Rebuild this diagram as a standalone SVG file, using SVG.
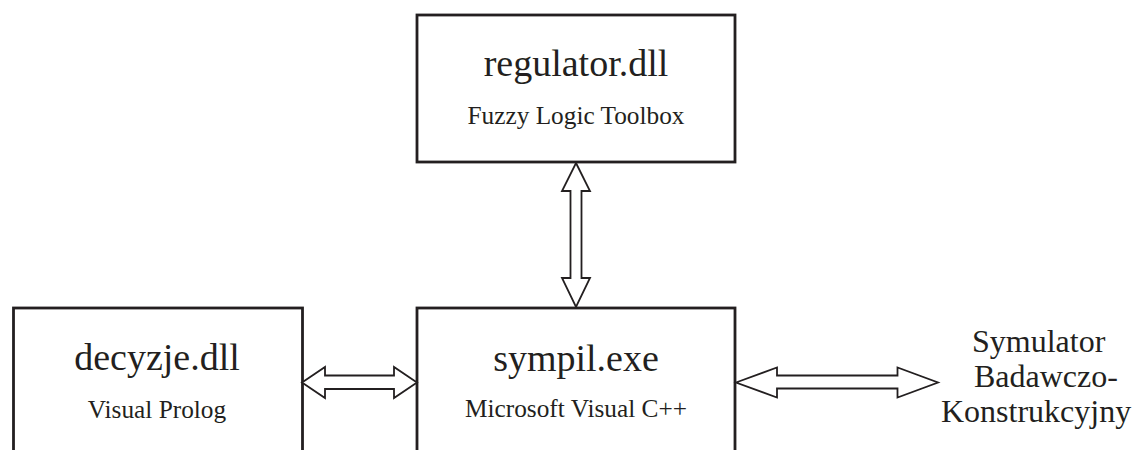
<svg xmlns="http://www.w3.org/2000/svg" width="1135" height="450" viewBox="0 0 1135 450">
<style>
.box{fill:#fff;stroke:#231f20;stroke-width:2.8}
.arr{fill:#fff;stroke:#231f20;stroke-width:1.8;stroke-linejoin:miter}
.t{font-family:"Liberation Serif","Times New Roman",serif;fill:#231f20;text-anchor:middle}
.big{font-size:38px}
.small{font-size:25.3px}
.side{font-family:"Liberation Serif","Times New Roman",serif;fill:#231f20;font-size:32px}
</style>
<rect width="1135" height="450" fill="#fff"/>
<g id="regulator">
<rect class="box" x="417" y="15" width="318" height="147"/>
<text class="t big" x="576" y="76">regulator.dll</text>
<text class="t small" x="576" y="124">Fuzzy Logic Toolbox</text>
</g>
<g id="decyzje">
<rect class="box" x="13.5" y="308" width="289" height="160"/>
<text class="t big" x="157" y="370">decyzje.dll</text>
<text class="t small" x="157" y="418">Visual Prolog</text>
</g>
<g id="sympil">
<rect class="box" x="417" y="308" width="318" height="160"/>
<text class="t big" x="576" y="371">sympil.exe</text>
<text class="t small" x="576" y="417">Microsoft Visual C++</text>
</g>
<g id="symulator">
<text class="side" x="972" y="352">Symulator</text>
<text class="side" x="974" y="387">Badawczo-</text>
<text class="side" x="941" y="422">Konstrukcyjny</text>
</g>
<g id="connectors">
<polygon class="arr" points="576,163 590,191 581.5,191 581.5,278 590,278 576,307 562,278 570.5,278 570.5,191 562,191"/>
<polygon class="arr" points="302,382.5 325,367 325,375.5 394,375.5 394,367 417,382.5 394,398 394,389 325,389 325,398"/>
<polygon class="arr" points="736,382.5 777,367.5 777,375.5 897.5,375.5 897.5,367.5 938,382.5 897.5,397.5 897.5,388.5 777,388.5 777,397.5"/>
</g>
</svg>
